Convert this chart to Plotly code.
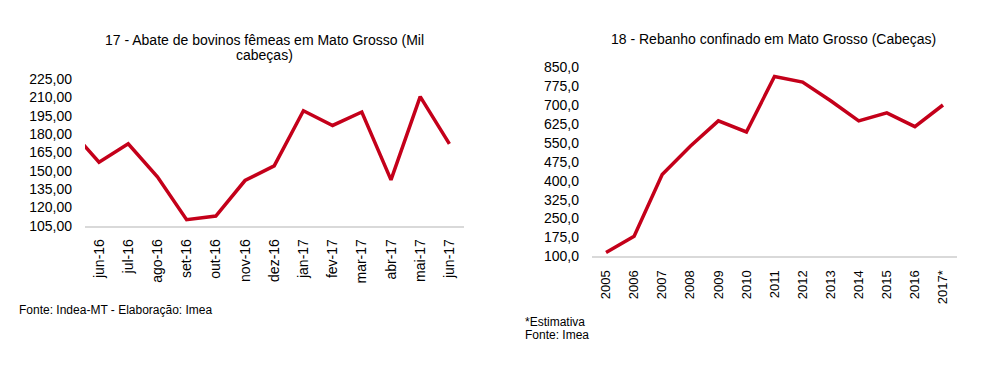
import plotly.graph_objects as go

# Chart 17 - Abate de bovinos fêmeas (Mil cabeças)
months = ["mai-16", "jun-16", "jul-16", "ago-16", "set-16", "out-16", "nov-16",
          "dez-16", "jan-17", "fev-17", "mar-17", "abr-17", "mai-17", "jun-17"]
abate = [184.0, 157.0, 172.0, 145.0, 110.0, 113.0, 142.0,
         154.0, 199.0, 187.0, 198.0, 142.5, 210.5, 172.0]
left_yticks = [105, 120, 135, 150, 165, 180, 195, 210, 225]

# Chart 18 - Rebanho confinado (Cabeças)
years = ["2005", "2006", "2007", "2008", "2009", "2010", "2011",
         "2012", "2013", "2014", "2015", "2016", "2017*"]
rebanho = [115.0, 180.0, 425.0, 537.0, 638.0, 594.0, 814.0,
           792.0, 718.0, 638.0, 670.0, 615.0, 701.0]
right_yticks = [100, 175, 250, 325, 400, 475, 550, 625, 700, 775, 850]

RED = "#C4001A"
FONT = "Liberation Sans, Arial, Helvetica, sans-serif"
AX = "#D9D9D9"

# the page body has an 8px margin; keep the figure inside the window
OFF = 8
W, H = 980, 345
def fx(px): return (px - OFF) / W
def fy(py): return (H - (py - OFF)) / H

fig = go.Figure()
xi = list(range(len(months)))
fig.add_trace(go.Scatter(x=xi, y=abate, mode="lines",
                         line=dict(color=RED, width=3.5), xaxis="x", yaxis="y",
                         showlegend=False))
fig.add_trace(go.Scatter(x=years, y=rebanho, mode="lines",
                         line=dict(color=RED, width=3.5), xaxis="x2", yaxis="y2",
                         showlegend=False))

fig.update_layout(
    width=W, height=H,
    margin=dict(l=0, r=0, t=0, b=0),
    paper_bgcolor="white", plot_bgcolor="white",
    font=dict(family=FONT, color="#000000", size=13),
    xaxis=dict(domain=[fx(85), fx(464)], range=[0.52, 13.5],
               tickmode="array", tickvals=xi[1:], ticktext=months[1:],
               tickangle=-90, showgrid=False, zeroline=False,
               showline=True, linecolor=AX, linewidth=1.5, ticks="",
               tickfont=dict(size=14), ticklabelstandoff=6),
    yaxis=dict(domain=[fy(228), fy(74)], range=[105, 225],
               tickmode="array", tickvals=left_yticks,
               ticktext=[f"{v:.2f}".replace(".", ",") for v in left_yticks],
               showgrid=False, zeroline=False, showline=False, ticks="",
               tickfont=dict(size=14), ticklabelstandoff=12),
    xaxis2=dict(domain=[fx(592), fx(957)], anchor="y2",
                type="category", range=[-0.5, len(years) - 0.5],
                tickangle=-90, showgrid=False, zeroline=False,
                showline=True, linecolor=AX, linewidth=1.5, ticks="",
                tickfont=dict(size=13), ticklabelstandoff=7),
    yaxis2=dict(domain=[fy(260), fy(62)], anchor="x2", range=[100, 850],
                tickmode="array", tickvals=right_yticks,
                ticktext=[f"{v:.1f}".replace(".", ",") for v in right_yticks],
                showgrid=False, zeroline=False, showline=False, ticks="",
                tickfont=dict(size=14), ticklabelstandoff=12),
    annotations=[
        dict(text="17 - Abate de bovinos fêmeas em Mato Grosso (Mil",
             x=fx(264), y=fy(33), xref="paper", yref="paper",
             xanchor="center", yanchor="middle", showarrow=False,
             font=dict(size=14)),
        dict(text="cabeças)",
             x=fx(264), y=fy(48.5), xref="paper", yref="paper",
             xanchor="center", yanchor="middle", showarrow=False,
             font=dict(size=14)),
        dict(text="18 - Rebanho confinado em Mato Grosso (Cabeças)",
             x=fx(773.5), y=fy(32), xref="paper", yref="paper",
             xanchor="center", yanchor="middle", showarrow=False,
             font=dict(size=14)),
        dict(text="Fonte: Indea-MT - Elaboração: Imea",
             x=fx(17), y=fy(316), xref="paper", yref="paper",
             xanchor="left", yanchor="middle", showarrow=False,
             font=dict(size=12)),
        dict(text="*Estimativa",
             x=fx(523), y=fy(328.5), xref="paper", yref="paper",
             xanchor="left", yanchor="middle", showarrow=False,
             font=dict(size=12)),
        dict(text="Fonte: Imea",
             x=fx(523), y=fy(342), xref="paper", yref="paper",
             xanchor="left", yanchor="middle", showarrow=False,
             font=dict(size=12)),
    ],
)

fig.write_html("out.html")
